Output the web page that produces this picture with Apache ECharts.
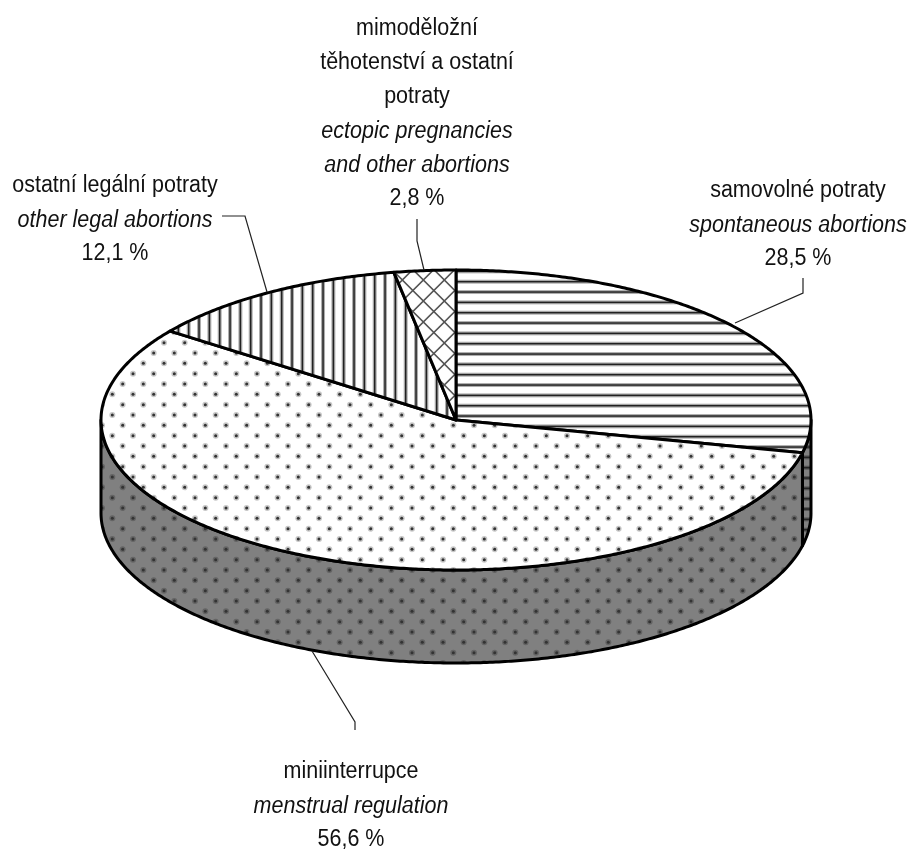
<!DOCTYPE html>
<html>
<head>
<meta charset="utf-8">
<style>
  html, body {margin: 0; padding: 0; background: #fff;}
  #chart {width: 913px; height: 851px;}
</style>
<script src="https://cdn.jsdelivr.net/npm/echarts@6/dist/echarts.min.js"></script>
</head>
<body>
<div id="chart"></div>
<script>
const namesCz = ['samovolné potraty', 'miniinterrupce', 'ostatní legální potraty', 'mimoděložní\ntěhotenství a ostatní\npotraty']
const namesEn = ['spontaneous abortions', 'menstrual regulation', 'other legal abortions', 'ectopic pregnancies\nand other abortions']
const shares = [28.5, 56.6, 12.1, 2.8]
const shareLabels = ['28,5 %', '56,6 %', '12,1 %', '2,8 %']

// ellipse of the pie top, px
const cx = 456
const cy = 420
const rx = 355
const ry = 150
const depth = 93

// label anchor (centre x, top y) and leader line for each slice
const labelPos = [[798, 174], [351, 755], [115, 169], [417, 12]]
const leaders = [
  [[735, 323], [803, 293], [803, 278]],
  [[312, 651], [355, 722], [355, 730]],
  [[267, 292], [245, 216], [222, 216]],
  [[424, 270], [417, 241], [417, 219]]
]

const tile = (size, bg, draw) => {
  const c = document.createElement('canvas')
  c.width = c.height = size
  const ctx = c.getContext('2d')
  if (bg) {
    ctx.fillStyle = bg
    ctx.fillRect(0, 0, size, size)
  }
  draw(ctx)
  return {image: c, repeat: 'repeat'}
}

const P = 31 / 3
const lines = (ctx, vertical) => {
  for (let k = -1; k <= 3; k++) {
    const p = 2.7 + k * P
    ;[[4, 'rgba(0,0,0,.32)'], [1.5, '#222']].forEach(([w, col]) => {
      ctx.lineWidth = w
      ctx.strokeStyle = col
      ctx.beginPath()
      if (vertical) {
        ctx.moveTo(p, 0)
        ctx.lineTo(p, 31)
      } else {
        ctx.moveTo(0, p)
        ctx.lineTo(31, p)
      }
      ctx.stroke()
    })
  }
}
const dots = ctx => {
  for (let i = -1; i <= 6; i++) {
    for (let j = -1; j <= 6; j++) {
      if ((i + j + 2) % 2) continue
      const x = 9 + i * P
      const y = 1.7 + j * P
      ctx.fillStyle = 'rgba(0,0,0,.22)'
      ctx.beginPath()
      ctx.arc(x, y, 3, 0, Math.PI * 2)
      ctx.fill()
      ctx.fillStyle = '#333'
      ctx.beginPath()
      ctx.arc(x, y, 1.5, 0, Math.PI * 2)
      ctx.fill()
    }
  }
}
const cross = ctx => {
  ctx.strokeStyle = '#555'
  ctx.lineWidth = 1.6
  for (let k = -3; k <= 3; k++) {
    const o = k * 21
    ctx.beginPath()
    ctx.moveTo(3.3 + o - 30, 7 - 30)
    ctx.lineTo(3.3 + o + 30, 7 + 30)
    ctx.moveTo(3.3 + o - 30, 7 + 30)
    ctx.lineTo(3.3 + o + 30, 7 - 30)
    ctx.stroke()
  }
}

const topFills = [
  tile(31, '#fff', ctx => lines(ctx, false)),
  tile(62, '#fff', dots),
  tile(31, '#fff', ctx => lines(ctx, true)),
  tile(21, '#fff', cross)
]
const sideFills = [
  tile(31, '#808080', ctx => lines(ctx, false)),
  tile(62, '#808080', dots)
]

// angles clockwise from 12 o'clock
const total = shares.reduce((a, b) => a + b, 0)
const startDeg = i => shares.slice(0, i).reduce((a, b) => a + b, 0) / total * 360
const pt = (deg, dy = 0) => {
  const a = deg * Math.PI / 180
  return [cx + rx * Math.sin(a), cy - ry * Math.cos(a) + dy]
}
const arc = (from, to, dy = 0) => {
  const out = []
  const n = Math.max(2, Math.ceil(Math.abs(to - from) * 2))
  for (let k = 0; k <= n; k++) out.push(pt(from + (to - from) * k / n, dy))
  return out
}

const renderSide = (params, api) => {
  const i = api.value(0)
  const from = Math.max(startDeg(i), 90)
  const to = Math.min(startDeg(i) + api.value(1) / total * 360, 270)
  if (to <= from) return {type: 'group', children: []}
  return {
    type: 'polygon',
    shape: {points: arc(from, to).concat(arc(to, from, depth))},
    style: {fill: sideFills[i], stroke: '#000', lineWidth: 3, lineJoin: 'round'}
  }
}

const textStyle = {fontFamily: '"Liberation Sans", Arial, sans-serif', fontSize: 23.5, lineHeight: 34, fill: '#111', align: 'center', verticalAlign: 'top'}
const textScale = 0.915

const renderTop = (params, api) => {
  const i = api.value(0)
  const from = startDeg(i)
  const to = from + api.value(1) / total * 360
  const [lx, ly] = labelPos[i]
  const czRows = namesCz[i].split('\n').length
  const enRows = namesEn[i].split('\n').length
  return {
    type: 'group',
    children: [
      {
        type: 'polygon',
        shape: {points: [[cx, cy]].concat(arc(from, to))},
        style: {fill: topFills[i], stroke: '#000', lineWidth: 3, lineJoin: 'round'}
      },
      {
        type: 'polyline',
        shape: {points: leaders[i]},
        style: {fill: null, stroke: '#222', lineWidth: 1.2}
      },
      {type: 'text', x: lx, y: ly, scaleX: textScale, style: {...textStyle, text: namesCz[i]}},
      {type: 'text', x: lx, y: ly + czRows * 34, scaleX: textScale, style: {...textStyle, text: namesEn[i], fontStyle: 'italic'}},
      {type: 'text', x: lx, y: ly + (czRows + enRows) * 34, scaleX: textScale, style: {...textStyle, text: shareLabels[i]}}
    ]
  }
}

const chart = echarts.init(document.getElementById('chart'), null, {renderer: 'canvas'})
const rows = shares.map((v, i) => [i, v])
chart.setOption({
  animation: false,
  backgroundColor: '#fff',
  series: [
    {type: 'custom', coordinateSystem: 'none', data: rows, renderItem: renderSide, silent: true, z: 1},
    {type: 'custom', coordinateSystem: 'none', data: rows, renderItem: renderTop, silent: true, z: 2}
  ]
})
</script>
</body>
</html>
